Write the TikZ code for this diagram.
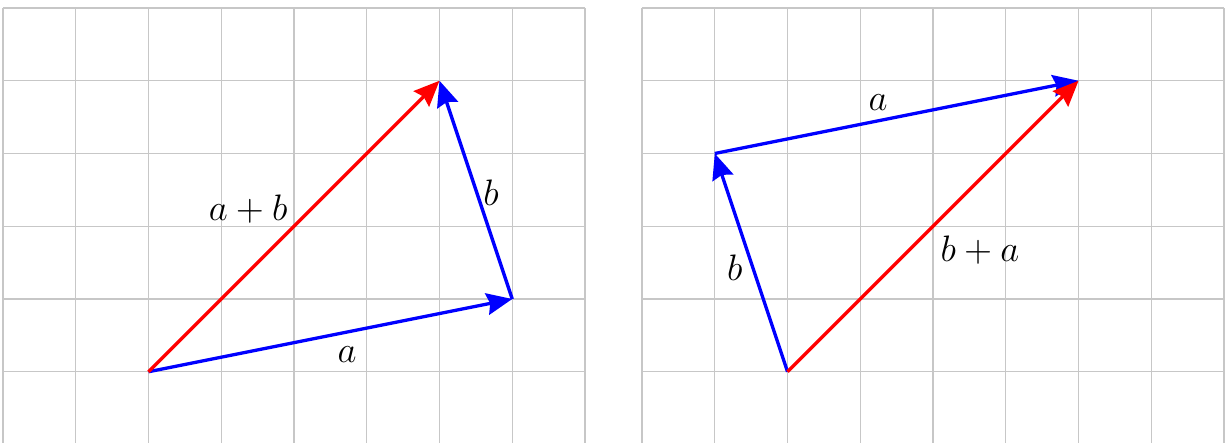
\documentclass[tikz,border=0pt]{standalone}
\usetikzlibrary{arrows.meta}
\tikzset{
  gridline/.style={black!22, line width=0.45pt},
  vec/.style={line width=1.3pt, -{Stealth[length=10pt,width=8.5pt,inset=1.2pt]}},
  lbl/.style={font=\fontsize{13.5}{16}\selectfont, inner sep=0pt},
}
\begin{document}
\begin{tikzpicture}[x=1cm,y=1cm]
\useasboundingbox (-0.041,0.034) rectangle (16.797,6.11);
% left grid
\draw[gridline] (0,0) grid (8,6);
% right grid
\begin{scope}[xshift=8.784cm]
\draw[gridline] (0,0) grid (8,6);
\end{scope}
% left figure
\coordinate (O1) at (2,1);
\coordinate (A1) at (7,2);
\coordinate (B1) at (6,5);
\draw[vec, blue] (O1) -- (A1);
\draw[vec, blue] (A1) -- (B1);
\draw[vec, red] (O1) -- (B1);
\node[lbl] (la1) at (4.73,1.24) {$a$};
\node[lbl] (lb1) at (6.71,3.46) {$b$};
\node[lbl] (lab) at (3.37,3.23) {$a+b$};
% right figure
\coordinate (O2) at (10.784,1);
\coordinate (B2) at (9.784,4);
\coordinate (A2) at (14.784,5);
\draw[vec, blue] (O2) -- (B2);
\draw[vec, blue] (B2) -- (A2);
\draw[vec, red] (O2) -- (A2);
\node[lbl] (la2) at (12.03,4.70) {$a$};
\node[lbl] (lb2) at (10.06,2.43) {$b$};
\node[lbl] (lba) at (13.43,2.67) {$b+a$};
\end{tikzpicture}
\end{document}
